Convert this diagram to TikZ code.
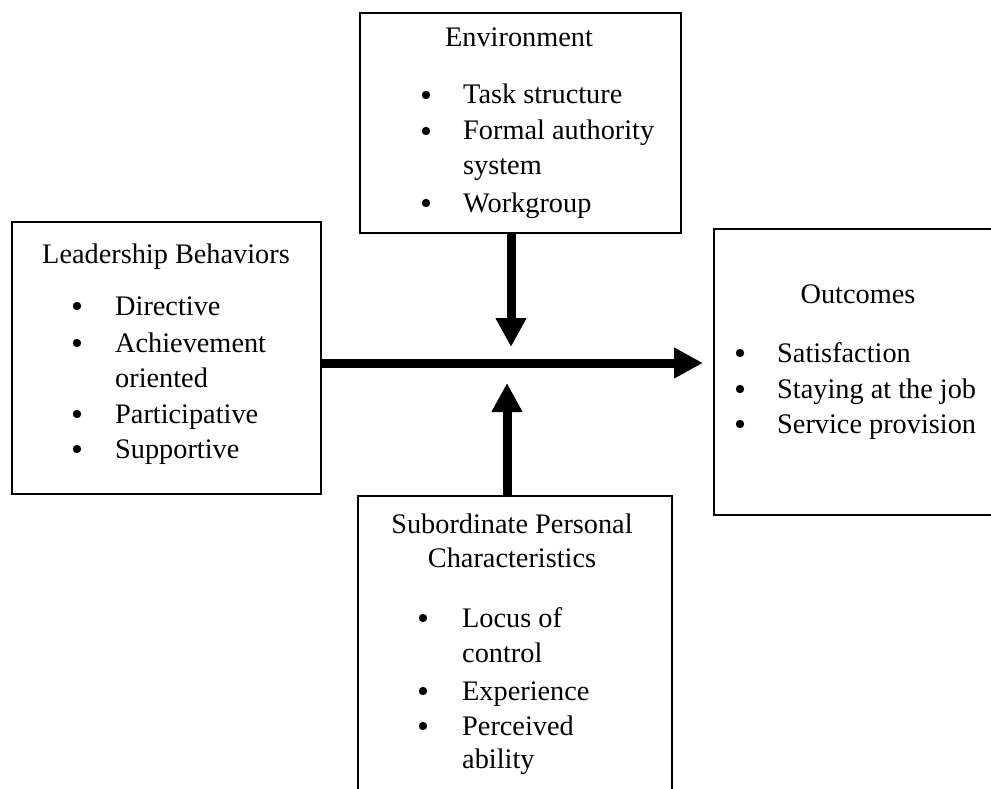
\documentclass[tikz,border=0pt]{standalone}
\usepackage{fontspec}
\setmainfont{Liberation Serif}
\usetikzlibrary{arrows.meta}
\newcommand{\bodyfont}{\fontsize{28.3}{34}\selectfont}
\begin{document}
\begin{tikzpicture}[x=1pt,y=-1pt,
  panel/.style={draw, line width=1.4pt, rectangle, inner sep=0pt, outer sep=0pt},
  heading/.style={font=\bodyfont, inner sep=0pt, anchor=base},
  item/.style={font=\bodyfont, inner sep=0pt, anchor=base west},
  flow/.style={line width=9pt, -{Triangle[length=29pt,width=29pt]}},
  dot/.style={radius=4.2pt}
]
\useasboundingbox (0,0) rectangle (991,789);
\clip (0,0) rectangle (991,789);

% frames
\node[panel, minimum width=309pt, minimum height=272pt] (lead) at (166.5,358) {};
\node[panel, minimum width=321pt, minimum height=220pt] (env)  at (520.5,123) {};
\node[panel, minimum width=290pt, minimum height=286pt] (out)  at (859,372) {};
\node[panel, minimum width=314pt, minimum height=304pt] (sub)  at (515,648) {};

% junction points of the arrows
\coordinate (hub) at (509,363);
\coordinate (topin) at (511,347);
\coordinate (botin) at (507,383);

% arrows
\draw[flow] (lead.east |- hub) -- (out.west |- hub) [shorten >=11pt];
\draw[flow] (env.south -| topin) -- (topin);
\draw[flow] (sub.north -| botin) -- (botin);

% Leadership Behaviors
\node[heading] (leadT) at (166,263) {Leadership Behaviors};
\node[item] (lead1) at (115,315) {Directive};
\node[item] (lead2) at (115,352) {Achievement};
\node[item] (lead3) at (115,387) {oriented};
\node[item] (lead4) at (115,423) {Participative};
\node[item] (lead5) at (115,458) {Supportive};
\foreach \yb in {315,352,423,458} \fill (77,\yb-9) circle[dot];

% Environment
\node[heading] (envT) at (519,47) {Environment};
\node[item] (env1) at (463,104) {Task structure};
\node[item] (env2) at (463,140) {Formal authority};
\node[item] (env3) at (463,175) {system};
\node[item] (env4) at (463,212) {Workgroup};
\foreach \yb in {104,140,212} \fill (426,\yb-9) circle[dot];

% Outcomes
\node[heading] (outT) at (858,303) {Outcomes};
\node[item] (out1) at (777,362) {Satisfaction};
\node[item] (out2) at (777,398) {Staying at the job};
\node[item] (out3) at (777,433) {Service provision};
\foreach \yb in {362,398,433} \fill (740,\yb-9) circle[dot];

% Subordinate Personal Characteristics
\node[heading] (subT1) at (512,533) {Subordinate Personal};
\node[heading] (subT2) at (512,567) {Characteristics};
\node[item] (sub1) at (462,627) {Locus of};
\node[item] (sub2) at (462,662) {control};
\node[item] (sub3) at (462,700) {Experience};
\node[item] (sub4) at (462,735) {Perceived};
\node[item] (sub5) at (462,768) {ability};
\foreach \yb in {627,700,735} \fill (423,\yb-9) circle[dot];
\end{tikzpicture}
\end{document}
